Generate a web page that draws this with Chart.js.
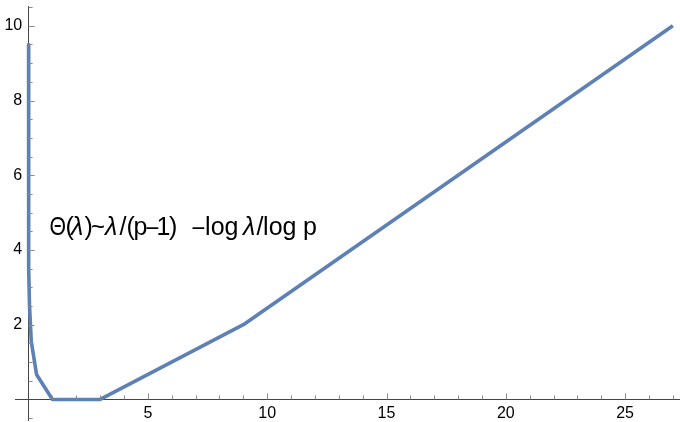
<!DOCTYPE html>
<html>
<head>
<meta charset="utf-8">
<script src="https://cdn.jsdelivr.net/npm/chart.js@4.4.1/dist/chart.umd.min.js"></script>
<style>
  html, body { margin: 0; padding: 0; background: #ffffff; }
  #wrap { width: 680px; height: 422px; position: relative; }
</style>
</head>
<body>
<div id="wrap"><canvas id="c" width="680" height="422"></canvas></div>
<script>
// ---- data ----
const lambdaValues = [0.0000169, 0.0000508, 0.000152, 0.000457, 0.00137, 0.00412, 0.0123, 0.037, 0.111, 0.333, 1, 3, 9, 27];
const thetaValues  = [9.5, 8.5, 7.5, 6.5, 5.5, 4.5, 3.51, 2.52, 1.56, 0.67, 0, 0, 2, 10];
const xMajorTicks = [5, 10, 15, 20, 25];
const xMinorTicks = [1, 2, 3, 4, 6, 7, 8, 9, 11, 12, 13, 14, 16, 17, 18, 19, 21, 22, 23, 24, 26, 27];
const yMajorTicks = [2, 4, 6, 8, 10];
const yMinorTicks = [-0.5, 0.5, 1, 1.5, 2.5, 3, 3.5, 4.5, 5, 5.5, 6.5, 7, 7.5, 8.5, 9, 9.5, 10.5];
// annotation "Θ(λ)~λ/(p–1)–log λ/log p" split into glyph groups: [text, offset px, italic, xScale]
const annotationPieces = [
  ["Θ", 0, false, 0.85], ["(", 16, false, 1], ["λ", 21.5, true, 1], [")", 35, false, 1],
  ["~", 41.5, false, 0.95], ["λ", 55.5, true, 1], ["/", 70, false, 1], ["(", 77, false, 1],
  ["p", 84, false, 1], ["–", 97, false, 0.85], ["1", 107, false, 1], [")", 119.5, false, 1],
  ["–", 143, false, 0.85], ["log", 155.5, false, 1], ["λ", 193.5, true, 1],
  ["/", 207, false, 1], ["log", 213.5, false, 1], ["p", 253.5, false, 1]
];

const points = lambdaValues.map((x, i) => ({ x: x, y: thetaValues[i] }));

const FONT = "'Liberation Sans', Arial, Helvetica, sans-serif";

const inwardTicks = {
  id: 'inwardTicks',
  afterDraw(chart) {
    const ctx = chart.ctx;
    const xs = chart.scales.x, ys = chart.scales.y;
    const x0 = xs.getPixelForValue(0);
    const y0 = ys.getPixelForValue(0);
    ctx.save();
    ctx.strokeStyle = '#8a8a8a';
    ctx.lineWidth = 1;
    ctx.beginPath();
    xMajorTicks.forEach(v => { const p = Math.round(xs.getPixelForValue(v)) + 0.5; ctx.moveTo(p, y0); ctx.lineTo(p, y0 - 6); });
    xMinorTicks.forEach(v => { const p = Math.round(xs.getPixelForValue(v)) + 0.5; ctx.moveTo(p, y0); ctx.lineTo(p, y0 - 4); });
    yMajorTicks.forEach(v => { const p = Math.round(ys.getPixelForValue(v)) + 0.5; ctx.moveTo(x0, p); ctx.lineTo(x0 + 6, p); });
    yMinorTicks.forEach(v => { const p = Math.round(ys.getPixelForValue(v)) + 0.5; ctx.moveTo(x0, p); ctx.lineTo(x0 + 4, p); });
    ctx.stroke();
    // annotation
    const sx = xs.getPixelForValue(0.88);
    const sy = ys.getPixelForValue(4.4);
    ctx.fillStyle = '#000000';
    ctx.textBaseline = 'alphabetic';
    ctx.textAlign = 'left';
    annotationPieces.forEach(([t, off, it, sc]) => {
      ctx.save();
      ctx.translate(sx + off, sy);
      ctx.font = (it ? 'italic ' : '') + '25px ' + FONT;
      ctx.scale(sc, 1);
      ctx.fillText(t, 0, 0);
      ctx.restore();
    });
    ctx.restore();
  }
};

new Chart(document.getElementById('c'), {
  type: 'scatter',
  data: {
    datasets: [{
      data: points,
      showLine: true,
      borderColor: '#5e81b5',
      backgroundColor: '#5e81b5',
      borderWidth: 3.6,
      pointRadius: 0,
      tension: 0,
      borderJoinStyle: 'round',
      borderCapStyle: 'butt'
    }]
  },
  options: {
    responsive: false,
    animation: false,
    devicePixelRatio: 1,
    layout: { padding: { left: 15, right: 0, top: 6, bottom: 2 } },
    plugins: { legend: { display: false }, tooltip: { enabled: false } },
    scales: {
      x: {
        type: 'linear',
        position: { y: 0 },
        min: -0.57,
        max: 27.3,
        afterBuildTicks: (s) => { s.ticks = xMajorTicks.map(v => ({ value: v })); },
        afterFit: (s) => { s.height = 0; s.paddingLeft = 0; s.paddingRight = 0; s.paddingTop = 0; s.paddingBottom = 0; },
        ticks: { color: '#000', font: { family: FONT, size: 16 }, padding: 5, maxRotation: 0 },
        grid: { drawOnChartArea: false, drawTicks: false },
        border: { display: true, color: '#444444', width: 1 }
      },
      y: {
        type: 'linear',
        position: { x: 0 },
        min: -0.55,
        max: 10.53,
        afterBuildTicks: (s) => { s.ticks = yMajorTicks.map(v => ({ value: v })); },
        afterFit: (s) => { s.width = 0; s.paddingLeft = 0; s.paddingRight = 0; s.paddingTop = 0; s.paddingBottom = 0; },
        ticks: { color: '#000', font: { family: FONT, size: 16 }, callback: (v) => v + '\u2009\u2009' },
        grid: { drawOnChartArea: false, drawTicks: false },
        border: { display: true, color: '#444444', width: 1 }
      }
    }
  },
  plugins: [inwardTicks]
});
</script>
</body>
</html>
